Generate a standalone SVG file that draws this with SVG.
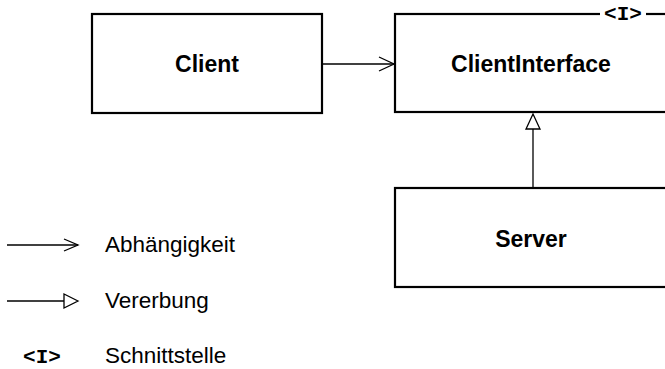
<svg xmlns="http://www.w3.org/2000/svg" width="665" height="369" viewBox="0 0 665 369">
<style>
.box{fill:#fff;stroke:#000;stroke-width:2.2}
.lbl{font-family:"Liberation Sans",Arial,sans-serif;font-weight:bold;font-size:23px;fill:#000;text-anchor:middle}
.leg{font-family:"Liberation Sans",Arial,sans-serif;font-size:22.5px;fill:#000}
.mono{font-family:"Liberation Mono","Courier New",monospace;font-weight:bold;font-size:21px;fill:#000;text-anchor:middle}
.ln{stroke:#000;stroke-width:1.3;fill:none}
.tri{stroke:#000;stroke-width:1.3;fill:#fff}
</style>
<rect width="665" height="369" fill="#fff"/>
<g id="client">
<rect class="box" x="92" y="14" width="230" height="99"/>
<text class="lbl" x="207" y="72">Client</text>
</g>
<g id="clientinterface">
<rect class="box" x="395" y="14" width="272" height="98"/>
<rect x="600" y="4" width="46" height="20" fill="#fff"/>
<text class="mono" x="623" y="20">&lt;I&gt;</text>
<text class="lbl" x="531" y="72">ClientInterface</text>
</g>
<g id="server">
<rect class="box" x="395" y="188" width="272" height="99"/>
<text class="lbl" x="531" y="247">Server</text>
</g>
<g id="connectors">
<line class="ln" x1="323" y1="64" x2="394" y2="64"/>
<polyline class="ln" points="379,57 394,64 379,71"/>
<line class="ln" x1="533" y1="187" x2="533" y2="129"/>
<polygon class="tri" points="533,114 526,129 540,129"/>
</g>
<g id="legend">
<line class="ln" x1="7" y1="245" x2="78" y2="245"/>
<polyline class="ln" points="64,239 78,245 64,251"/>
<text class="leg" x="105" y="252">Abhängigkeit</text>
<line class="ln" x1="7" y1="301" x2="64" y2="301"/>
<polygon class="tri" points="78,301 64,294 64,308"/>
<text class="leg" x="105" y="308">Vererbung</text>
<text class="mono" x="42" y="363">&lt;I&gt;</text>
<text class="leg" x="105" y="363">Schnittstelle</text>
</g>
</svg>
